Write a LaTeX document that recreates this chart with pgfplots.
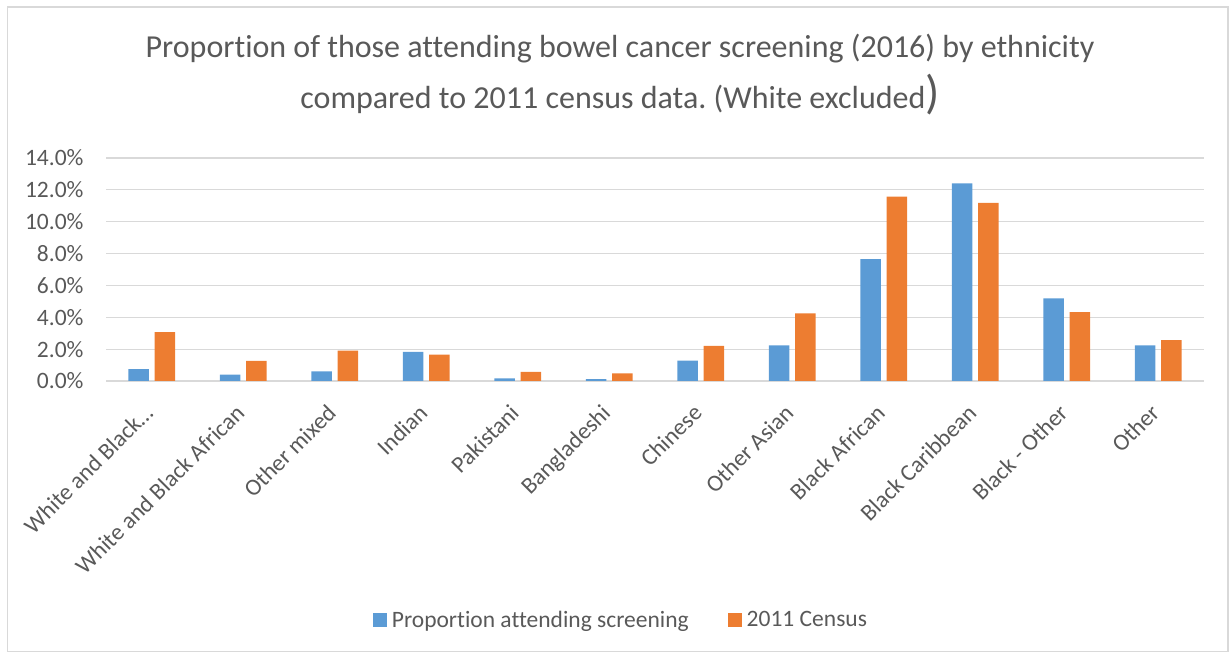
\documentclass[border=0pt]{standalone}
\usepackage{pgfplots}
\pgfplotsset{compat=1.18}
\usepackage{fontspec}
\setmainfont[Ligatures=NoCommon]{Carlito}
\frenchspacing
\definecolor{txt}{HTML}{595959}
\definecolor{gridc}{HTML}{D9D9D9}
\definecolor{cblue}{HTML}{5B9BD5}
\definecolor{corange}{HTML}{ED7D31}
\begin{document}
\begin{tikzpicture}[x=1pt,y=1pt]
\path[use as bounding box] (0,0) rectangle (1231,655);
\draw[gridc, line width=1.2pt] (7.5,3.5) rectangle (1228,648);
\node[txt, font=\fontsize{32}{36}\selectfont, anchor=base] at (620,597) {Proportion of those attending bowel cancer screening (2016) by ethnicity};
\node[txt, font=\fontsize{32}{36}\selectfont, anchor=base] at (620,546) {compared to 2011 census data. (White excluded{\fontsize{47}{47}\selectfont)}};
\begin{axis}[
  at={(106pt,274pt)}, anchor=south west,
  scale only axis, width=1098pt, height=223pt,
  ybar=5.7pt, bar width=20.6pt,
  ymin=0, ymax=14, xmin=-0.5, xmax=11.5,
  axis line style={draw=none},
  ymajorgrids=true, major grid style={gridc, line width=1.2pt},
  major tick length=0pt,
  ytick={0,2,4,6,8,10,12,14},
  yticklabels={0.0\%,2.0\%,4.0\%,6.0\%,8.0\%,10.0\%,12.0\%,14.0\%},
  xtick={0,...,11},
  xticklabels={White and Black\ldots,White and Black African,Other mixed,Indian,Pakistani,Bangladeshi,Chinese,Other Asian,Black African,Black Caribbean,Black - Other,Other},
  tick label style={font=\fontsize{23.5}{27}\selectfont, text=txt},
  yticklabel style={xshift=-19pt},
  xticklabel style={xshift=-9pt, yshift=-17pt, rotate=45, anchor=north east},
  legend style={at={(0.469,-1.072)}, anchor=center, draw=none, fill=none,
    legend columns=2, font=\fontsize{23.5}{27}\selectfont, text=txt,
    /tikz/every odd column/.append style={column sep=3pt},
    /tikz/every even column/.append style={column sep=37pt}},
  legend image code/.code={\fill[#1] (0pt,-7pt) rectangle (14pt,7pt);},
]
\addplot[fill=cblue, draw=none] coordinates {(0,0.74) (1,0.40) (2,0.61) (3,1.83) (4,0.17) (5,0.11) (6,1.28) (7,2.23) (8,7.65) (9,12.40) (10,5.19) (11,2.23)};
\addplot[fill=corange, draw=none] coordinates {(0,3.07) (1,1.26) (2,1.91) (3,1.66) (4,0.57) (5,0.48) (6,2.21) (7,4.25) (8,11.58) (9,11.18) (10,4.33) (11,2.56)};
\legend{Proportion attending screening, 2011 Census}
\end{axis}
\end{tikzpicture}
\end{document}
